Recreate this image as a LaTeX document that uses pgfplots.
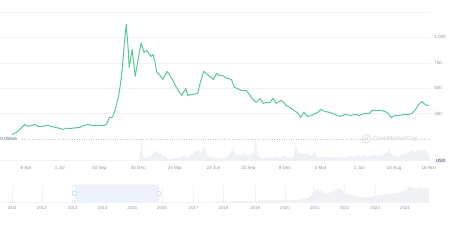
\documentclass[border=0pt]{standalone}
\usepackage{pgfplots}
\pgfplotsset{compat=1.18}
\usepackage{fontspec}
\setmainfont{Liberation Sans}
\definecolor{linec}{RGB}{88,200,150}
\definecolor{gridc}{RGB}{241,243,246}
\definecolor{labc}{RGB}{140,148,160}
\definecolor{volc}{RGB}{238,241,245}
\definecolor{selc}{RGB}{238,242,252}
\definecolor{navc}{RGB}{239,241,244}
\definecolor{darkc}{RGB}{88,102,126}
\begin{document}
\begin{tikzpicture}[x=1pt,y=1pt]
\fill[white] (0,0) rectangle (449,247);
% main price axis
\begin{axis}[
  at={(0pt,107pt)}, anchor=south west,
  scale only axis, width=433pt, height=127.5pt,
  xmin=0, xmax=433, ymin=0, ymax=1250,
  axis line style={draw=none},
  xtick=\empty,
  ytick={250,500,750,1000,1250},
  yticklabels={250,500,750,{1,000},{}},
  yticklabel pos=right,
  ymajorgrids, major grid style={gridc, line width=0.5pt},
  major tick length=0pt,
  yticklabel style={font=\fontsize{4.6}{5}\selectfont, text=labc, anchor=west, xshift=1pt},
  clip=false,
]
\addplot[linec, line width=1pt, line join=round] coordinates {
(12,44)(16,64)(20,94)(23,124)(25,143)(28,124)(32,133)(35,143)(38,124)(42,124)
(48,133)(55,114)(60,104)(63,94)(67,104)(72,104)(80,114)(85,133)(88,143)(92,133)
(96,133)(100,133)(105,133)(107,143)(110,212)(113,212)(116,291)(119,410)(121,529)(123,687)
(125,934)(127,1131)(129,884)(130,706)(133,884)(136,618)(139,785)(142,944)(145,855)(148,874)
(151,825)(152,815)(154,835)(156,756)(158,657)(161,627)(164,588)(168,667)(171,627)(174,578)
(177,519)(180,469)(183,430)(187,499)(189,430)(194,440)(199,450)(202,568)(205,667)(210,627)
(215,588)(218,647)(221,627)(224,627)(227,608)(229,598)(233,588)(236,509)(239,499)(241,489)
(243,479)(248,479)(251,440)(254,400)(258,361)(262,400)(265,351)(269,361)(272,361)(275,400)
(278,351)(283,380)(286,361)(288,331)(292,311)(296,282)(299,262)(301,242)(303,212)(306,262)
(310,222)(313,232)(316,242)(318,252)(320,262)(323,291)(327,272)(332,262)(337,242)(342,222)
(348,242)(353,232)(358,242)(362,232)(367,252)(372,252)(375,282)(382,282)(388,272)(391,252)
(394,212)(398,232)(403,232)(407,242)(412,242)(415,252)(418,282)(420,311)(422,341)(425,370)
(428,341)(430,331)(432,331)
};
\end{axis}
% volume axis
\begin{axis}[
  at={(0pt,85pt)}, anchor=south west,
  scale only axis, width=433pt, height=22pt,
  xmin=0, xmax=433, ymin=0, ymax=22,
  axis x line*=bottom, axis y line=none,
  x axis line style={gridc, line width=0.5pt},
  ytick=\empty,
  xtick={26,60,100,139,176,215,250,287,323,362,397,432},
  xticklabels={6 Apr,1 Jul,30 Sep,30 Dec,24 Mar,23 Jun,15 Sep,8 Dec,2 Mar,1 Jun,24 Aug,16 Nov},
  major tick length=0pt,
  xticklabel style={font=\fontsize{4.6}{5}\selectfont, text=labc, text height=3.4pt, text depth=0.9pt, yshift=-1.5pt},
  clip=false,
]
\addplot[fill=volc, draw=none] coordinates {
(137,0)(139,1)(141,3)(142,21)(143,21)(144,4)(146,3)(148,4)(150,3)(152,5)(154,7)(156,9)(158,10)(160,7)(162,8)
(164,5)(166,4)(168,3)(170,2)(172,3)(174,2)(176,4)(178,3)(180,2)(182,3)(184,5)(186,3)(188,4)(190,3)(192,7)
(194,5)(196,8)(198,10)(200,12)(202,8)(204,11)(206,14)(208,6)(210,4)(212,3)(214,4)(216,2)(218,3)(220,2)
(222,3)(224,2)(226,3)(228,4)(230,5)(232,7)(234,13)(236,9)(238,6)(240,5)(242,6)(244,5)(246,8)(248,6)
(250,5)(252,6)(254,8)(256,7)(257,20)(258,20)(259,6)(261,4)(263,3)(265,2)(267,3)(269,4)(271,3)(273,3)
(275,2)(277,3)(279,4)(281,3)(283,3)(285,5)(287,4)(289,3)(291,4)(293,3)(295,4)(297,10)(298,18)(299,11)
(301,8)(303,7)(305,6)(307,7)(309,8)(311,6)(313,5)(315,6)(317,9)(319,5)(321,4)(323,3)(325,4)(327,3)
(329,4)(331,3)(333,4)(335,3)(337,3)(339,4)(341,3)(343,4)(345,3)(347,4)(349,3)(351,4)(353,5)(355,4)
(357,3)(359,4)(361,6)(363,4)(365,5)(367,6)(369,4)(371,5)(373,4)(375,5)(377,6)(379,5)(381,6)(383,5)
(385,7)(387,6)(389,8)(391,10)(392,14)(393,8)(395,6)(397,5)(399,5)(401,4)(403,5)(405,6)(407,7)(409,6)
(411,8)(413,9)(415,11)(417,8)(419,9)(421,10)(423,11)(425,9)(427,12)(429,10)(431,8)(432,6)(433,0)
} \closedcycle;
\end{axis}
% navigator axis
\begin{axis}[
  at={(0pt,43pt)}, anchor=south west,
  scale only axis, width=433pt, height=18pt,
  xmin=0, xmax=433, ymin=0, ymax=18,
  axis x line*=bottom, axis y line=none,
  x axis line style={gridc, line width=0.5pt},
  ytick=\empty,
  xtick={12,42,73,103,133,163,195,225,257,287,317,347,378,408},
  xticklabels={2011,2012,2013,2014,2015,2016,2017,2018,2019,2020,2021,2022,2023,2024},
  xmajorgrids, major grid style={gridc, line width=0.5pt},
  major tick length=0pt,
  xticklabel style={font=\fontsize{4.3}{5}\selectfont, text=labc, text height=3.2pt, text depth=0.5pt, yshift=-0.5pt},
  clip=false,
]
\addplot[fill=selc, draw=none] coordinates {(75,0)(75,18)(160,18)(160,0)} \closedcycle;
\addplot[fill=navc, draw=none] coordinates {
(200,0)(210,0.5)(220,1)(230,1)(240,1.5)(250,1)(260,1.5)(270,2)(280,2)(290,2)(300,2.5)(308,4)
(312,6)(316,10)(318,12)(320,14)(322,11)(324,13)(326,9)(328,10)(330,8)(332,10)(336,11)(339,13)
(342,15)(344,12)(346,11)(348,8)(352,8)(356,7)(360,6)(365,5)(370,5)(375,6)(380,7)(385,8)(390,8)
(395,9)(400,9)(404,11)(408,12)(410,14)(413,16)(416,15)(420,14)(423,15)(426,13)(429,14)(432,14)(432,0)
} \closedcycle;
\draw[labc!50, fill=white, line width=0.4pt] (axis cs:75,9) circle[radius=2.3pt];
\draw[labc!50, fill=white, line width=0.4pt] (axis cs:160,9) circle[radius=2.3pt];
\end{axis}
% baseline and labels
\draw[labc!50, dotted, line width=0.4pt] (22,107) -- (433,107);
\node[anchor=west, inner sep=0, font=\fontsize{4.6}{5}\selectfont, text=darkc] at (0,106.5) {0.05816};
\node[anchor=west, inner sep=0, font=\bfseries\fontsize{4.6}{5}\selectfont, text=darkc] at (439,85) {USD};
% watermark
\draw[labc!35, line width=0.7pt] (369,107) circle[radius=4.2pt];
\node[inner sep=0, font=\bfseries\fontsize{4.4}{5}\selectfont, text=labc!35] at (369,107) {M};
\node[anchor=west, inner sep=0, font=\bfseries\fontsize{6.2}{7}\selectfont, text=labc!32] at (376,107) {CoinMarketCap};
\end{tikzpicture}
\end{document}
